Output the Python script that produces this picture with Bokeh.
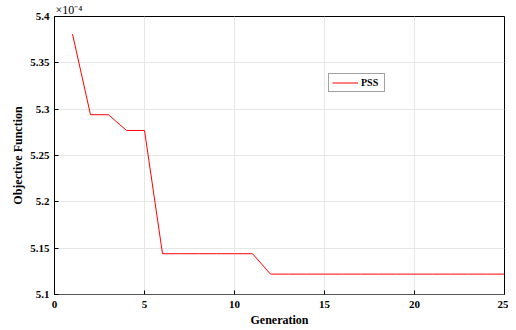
from bokeh.plotting import figure
from bokeh.models import Legend, LegendItem, FixedTicker
from bokeh.embed import file_html
from bokeh.resources import INLINE

generation = [1, 2, 3, 4, 5, 6, 7, 8, 9, 10, 11, 12, 13, 14, 15, 16, 17, 18, 19, 20, 21, 22, 23, 24, 25]
objective = [5.381, 5.294, 5.294, 5.277, 5.277, 5.144, 5.144, 5.144, 5.144, 5.144, 5.144,
             5.122, 5.122, 5.122, 5.122, 5.122, 5.122, 5.122, 5.122, 5.122, 5.122, 5.122,
             5.122, 5.122, 5.122]
x_ticks = [0, 5, 10, 15, 20, 25]
y_ticks = [5.1, 5.15, 5.2, 5.25, 5.3, 5.35, 5.4]
y_tick_labels = ["5.1", "5.15", "5.2", "5.25", "5.3", "5.35", "5.4"]
series_name = "PSS"
scale_text = "\u00d710\u207b\u2074"
FONT = "Liberation Serif"

p = figure(width=508, height=330, x_range=(0, 25), y_range=(5.1, 5.4),
           output_backend="svg", toolbar_location=None,
           min_border_left=54, min_border_right=4, min_border_top=4, min_border_bottom=36)
p.background_fill_color = "white"
p.border_fill_color = "white"
p.outline_line_color = "black"
p.outline_line_width = 1

p.title.text = scale_text
p.title.align = "left"
p.title.offset = 1
p.title.standoff = 0
p.title.text_font = FONT
p.title.text_font_style = "normal"
p.title.text_font_size = "12px"
p.title.text_color = "black"

r = p.line(generation, objective, line_color="red", line_width=1)

for ax in p.xaxis:
    ax.ticker = FixedTicker(ticks=x_ticks)
    ax.axis_label = "Generation"
for ax in p.yaxis:
    ax.ticker = FixedTicker(ticks=y_ticks)
    ax.axis_label = "Objective Function"
    ax.major_label_overrides = dict(zip(y_ticks, y_tick_labels))
for ax in list(p.xaxis) + list(p.yaxis):
    ax.major_tick_in = 4
    ax.major_tick_out = 0
    ax.minor_tick_in = 0
    ax.minor_tick_out = 0
    ax.axis_line_color = "black"
    ax.major_tick_line_color = "black"
    ax.major_label_text_font = FONT
    ax.major_label_text_font_style = "bold"
    ax.major_label_text_font_size = "11px"
    ax.major_label_text_color = "black"
    ax.axis_label_text_font = FONT
    ax.axis_label_text_font_style = "bold"
    ax.axis_label_text_font_size = "12px"
    ax.axis_label_text_color = "black"
    ax.axis_label_standoff = 2
p.xaxis.major_label_standoff = 6
p.yaxis.major_label_standoff = 5
p.xaxis.axis_line_color = "#555555"

p.xgrid.ticker = FixedTicker(ticks=x_ticks)
p.ygrid.ticker = FixedTicker(ticks=y_ticks)
p.grid.grid_line_color = "#e6e6e6"
p.grid.grid_line_width = 1

legend = Legend(items=[LegendItem(label=series_name, renderers=[r])],
                location=(274, 202))
legend.label_text_font = FONT
legend.label_text_font_style = "bold"
legend.label_text_font_size = "10px"
legend.label_text_color = "black"
legend.glyph_width = 26
legend.glyph_height = 9
legend.label_height = 9
legend.label_standoff = 3
legend.padding = 3
legend.margin = 0
legend.spacing = 0
legend.border_line_color = "#444444"
legend.border_line_width = 1
legend.background_fill_alpha = 1
p.add_layout(legend, "center")

open("out.html", "w").write(file_html(p, INLINE))
